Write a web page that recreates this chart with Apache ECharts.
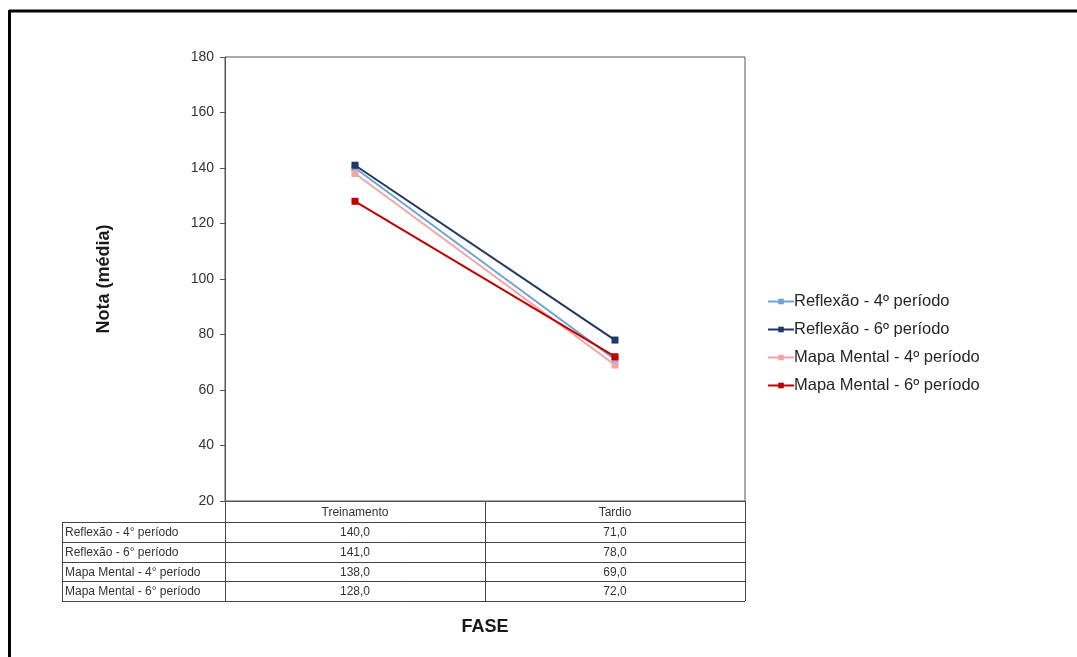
<!DOCTYPE html>
<html>
<head>
<meta charset="utf-8">
<style>
  html, body { margin: 0; padding: 0; background: #fff; }
  #chart { width: 1077px; height: 657px; }
</style>
<script src="https://cdn.jsdelivr.net/npm/echarts@6/dist/echarts.min.js"></script>
</head>
<body>
<div id="chart"></div>
<script>
// Phases on the x axis
const phases = ['Treinamento', 'Tardio'];
// Groups (series)
const groupNames = [
  'Reflexão - 4º período',
  'Reflexão - 6º período',
  'Mapa Mental - 4º período',
  'Mapa Mental - 6º período'
];
// Mean scores per group, one value per phase
const reflexao4 = [140, 71];
const reflexao6 = [141, 78];
const mapa4 = [138, 69];
const mapa6 = [128, 72];
const groupColors = ['#6ea3d6', '#1f3864', '#f2a3a6', '#c00000'];
// Y axis ticks
const yTicks = [20, 40, 60, 80, 100, 120, 140, 160, 180];

const seriesValues = [reflexao4, reflexao6, mapa4, mapa6];
const FONT = '"Liberation Sans", Arial, sans-serif';

const GRID = { left: 225, top: 57, width: 520, height: 444 };
const chart = echarts.init(document.getElementById('chart'), null, { renderer: 'canvas' });

const series = groupNames.map((name, i) => ({
  name,
  type: 'line',
  data: seriesValues[i],
  symbol: 'rect',
  symbolSize: 7,
  lineStyle: { width: 2, color: groupColors[i] },
  itemStyle: { color: groupColors[i] },
  z: 3 + i
}));

chart.setOption({
  animation: false,
  backgroundColor: '#fff',
  textStyle: { fontFamily: FONT },
  grid: {
    left: GRID.left, top: GRID.top, width: GRID.width, height: GRID.height,
    show: true, borderColor: '#555', borderWidth: 1, backgroundColor: 'transparent'
  },
  legend: {
    orient: 'vertical',
    left: 762,
    top: 288,
    itemWidth: 26,
    itemHeight: 7,
    itemGap: 11,
    textStyle: { fontSize: 16.5, lineHeight: 17, color: '#262626', fontFamily: FONT, padding: [0, 0, 0, -5] },
    data: groupNames
  },
  xAxis: {
    type: 'category',
    data: phases,
    boundaryGap: true,
    axisLine: { show: true, lineStyle: { color: '#555' } },
    axisTick: { show: false },
    axisLabel: { show: false },
    name: 'FASE',
    nameLocation: 'middle',
    nameGap: 117,
    nameTextStyle: { fontSize: 18, fontWeight: 'bold', color: '#1a1a1a', fontFamily: FONT }
  },
  yAxis: {
    type: 'value',
    min: yTicks[0],
    max: yTicks[yTicks.length - 1],
    interval: yTicks[1] - yTicks[0],
    axisLine: { show: true, lineStyle: { color: '#555' } },
    axisTick: { show: true, length: 5, lineStyle: { color: '#555' } },
    axisLabel: { fontSize: 14, color: '#333', margin: 11, fontFamily: FONT },
    splitLine: { show: false },
    name: 'Nota (média)',
    nameLocation: 'middle',
    nameRotate: 90,
    nameGap: 112,
    nameTextStyle: { fontSize: 18, fontWeight: 'bold', color: '#1a1a1a', fontFamily: FONT }
  },
  series
});

// Data table under the plot, laid out from the axis positions
function fmt(v) { return v.toFixed(1).replace('.', ','); }

const gridRight = GRID.left + GRID.width;
const gridBottom = GRID.top + GRID.height;
const headerH = 21;
const rowH = 19.75;
const labelLeft = 62;
const tableBottom = gridBottom + headerH + rowH * groupNames.length;
const lineStyle = { stroke: '#444', lineWidth: 1 };
const els = [];

function hLine(x1, x2, y) {
  y = Math.round(y) + 0.5;
  els.push({ type: 'line', shape: { x1, y1: y, x2, y2: y }, style: lineStyle, silent: true });
}
function vLine(x, y1, y2) {
  x = Math.round(x) + 0.5;
  els.push({ type: 'line', shape: { x1: x, y1, x2: x, y2 }, style: lineStyle, silent: true });
}
function txt(text, x, y, align) {
  els.push({
    type: 'text', x, y, silent: true,
    style: { text, fill: '#333', font: '12px ' + FONT, textAlign: align, textVerticalAlign: 'middle' }
  });
}

// column centres and boundaries from the category axis
const centers = phases.map((p) => chart.convertToPixel({ xAxisIndex: 0 }, p));
const bounds = [GRID.left];
for (let i = 0; i < centers.length - 1; i++) bounds.push((centers[i] + centers[i + 1]) / 2);
bounds.push(gridRight);

// header row
phases.forEach((p, i) => txt(p, centers[i], gridBottom + headerH / 2 + 1, 'center'));
// rows
groupNames.forEach((name, r) => {
  const top = gridBottom + headerH + r * rowH;
  hLine(labelLeft, gridRight, top);
  txt(name.replace(/º/g, '°'), labelLeft + 3, top + rowH / 2 + 1, 'left');
  seriesValues[r].forEach((v, c) => txt(fmt(v), centers[c], top + rowH / 2 + 1, 'center'));
});
hLine(labelLeft, gridRight, tableBottom);
vLine(labelLeft, gridBottom + headerH, tableBottom);
bounds.forEach((x) => vLine(x, gridBottom, tableBottom));

// outer frame (top and left edges)
els.push({ type: 'line', shape: { x1: 9, y1: 11, x2: 1077, y2: 11 }, style: { stroke: '#000', lineWidth: 3 }, silent: true });
els.push({ type: 'line', shape: { x1: 9.5, y1: 10, x2: 9.5, y2: 657 }, style: { stroke: '#000', lineWidth: 3 }, silent: true });

chart.setOption({ graphic: { elements: els } });
</script>
</body>
</html>
